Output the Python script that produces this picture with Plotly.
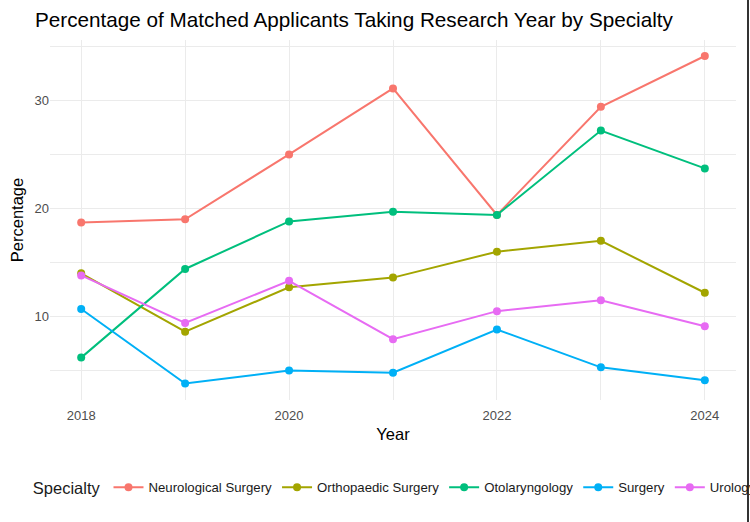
import plotly.graph_objects as go

years = [2018, 2019, 2020, 2021, 2022, 2023, 2024]
specialties = ["Neurological Surgery", "Orthopaedic Surgery", "Otolaryngology", "Surgery", "Urology"]
neuro = [18.7, 19.0, 25.0, 31.1, 19.4, 29.4, 34.1]
ortho = [14.0, 8.6, 12.7, 13.6, 16.0, 17.0, 12.2]
oto = [6.2, 14.4, 18.8, 19.7, 19.4, 27.2, 23.7]
surgery = [10.7, 3.8, 5.0, 4.8, 8.8, 5.3, 4.1]
urology = [13.8, 9.4, 13.3, 7.9, 10.5, 11.5, 9.1]
series = [neuro, ortho, oto, surgery, urology]
colors = ["#F8766D", "#A3A500", "#00BF7D", "#00B0F6", "#E76BF3"]

FONT = "Liberation Sans, Arial, sans-serif"

fig = go.Figure()
for name, vals, col in zip(specialties, series, colors):
    fig.add_trace(go.Scatter(
        x=years, y=vals, name=name, mode="lines+markers",
        line=dict(color=col, width=2),
        marker=dict(color=col, size=8),
    ))

fig.update_layout(
    width=750, height=522,
    margin=dict(l=50, r=14, t=40, b=122, autoexpand=False),
    paper_bgcolor="white", plot_bgcolor="white",
    font=dict(family=FONT, color="#000000"),
    title=dict(text="Percentage of Matched Applicants Taking Research Year by Specialty",
               x=35 / 750, xref="container", xanchor="left",
               y=1 - 20 / 522, yref="container", yanchor="middle",
               font=dict(size=20.7, color="#000000")),
    showlegend=True,
    legend=dict(orientation="h", x=-0.028, xanchor="left", y=-0.245, yanchor="middle",
                title=dict(text="Specialty", side="left", font=dict(size=16.5)),
                font=dict(size=13.2, color="#1a1a1a"), itemwidth=30,
                bgcolor="rgba(0,0,0,0)"),
)

fig.update_xaxes(
    range=[2017.7, 2024.3], tickvals=[2018, 2020, 2022, 2024],
    showgrid=True, gridcolor="#EBEBEB", gridwidth=1.1,
    minor=dict(tickvals=[2019, 2021, 2023], showgrid=True, gridcolor="#EBEBEB", gridwidth=0.6),
    zeroline=False, showline=False, ticks="", ticklabelstandoff=6,
    tickfont=dict(size=13, color="#4D4D4D"),
    title=dict(text="Year", font=dict(size=16.5), standoff=6),
)
fig.update_yaxes(
    range=[2.28, 35.58], tickvals=[10, 20, 30],
    showgrid=True, gridcolor="#EBEBEB", gridwidth=1.1,
    minor=dict(tickvals=[5, 15, 25, 35], showgrid=True, gridcolor="#EBEBEB", gridwidth=0.6),
    zeroline=False, showline=False, ticks="",
    tickfont=dict(size=13, color="#4D4D4D"),
    title=dict(text="Percentage", font=dict(size=16.5), standoff=6),
)

fig.add_shape(type="line", xref="paper", yref="paper",
              x0=(748 - 50) / 686, x1=(748 - 50) / 686, y0=-0.4, y1=1.2,
              line=dict(color="#333333", width=2))

fig.write_html("out.html")
